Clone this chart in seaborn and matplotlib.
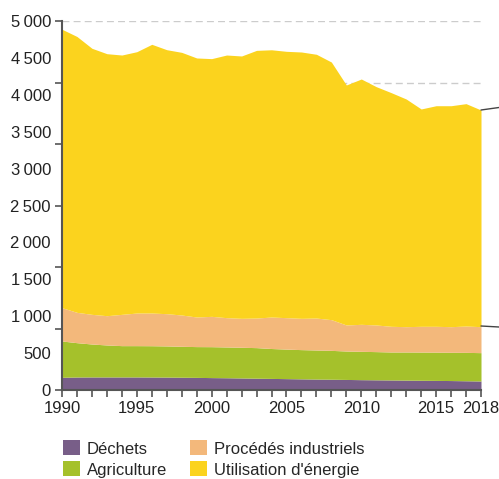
import numpy as np
import pandas as pd
import matplotlib
matplotlib.use("Agg")
import matplotlib.pyplot as plt
from matplotlib.patches import Patch
from matplotlib.lines import Line2D
import seaborn as sns

# --------------------------------------------------------------------------------
# Data
years = list(range(1990, 2019))

dechets = [172, 176, 177, 177, 177, 177, 176, 175, 173, 171, 168, 166, 163, 160, 157,
           154, 151, 148, 146, 143, 140, 138, 136, 134, 132, 130, 128, 125, 122]
agriculture = [492, 465, 446, 433, 424, 424, 424, 422, 419, 417, 419, 417, 416, 414, 405,
               400, 396, 394, 391, 385, 384, 382, 379, 381, 382, 383, 383, 385, 384]
procedes = [451, 411, 402, 397, 424, 442, 443, 437, 424, 401, 411, 397, 392, 401, 427,
            426, 424, 433, 416, 353, 366, 361, 348, 343, 349, 350, 347, 357, 352]
energie = [3773, 3738, 3605, 3550, 3514, 3541, 3641, 3577, 3559, 3510, 3492, 3559, 3555, 3627, 3621,
           3609, 3609, 3574, 3491, 3252, 3324, 3229, 3166, 3085, 2945, 2989, 2994, 3013, 2936]

series_names = ["Déchets", "Agriculture", "Procédés industriels", "Utilisation d'énergie"]
colors = ["#785e88", "#a5c12b", "#f3b87b", "#fbd31e"]

y_labels = [0, 500, 1000, 1500, 2000, 2500, 3000, 3500, 4000, 4500, 5000]
x_labels = [1990, 1995, 2000, 2005, 2010, 2015, 2018]

df = pd.DataFrame({"year": years, "Déchets": dechets, "Agriculture": agriculture,
                   "Procédés industriels": procedes, "Utilisation d'énergie": energie})

# --------------------------------------------------------------------------------
sns.set_theme(style="ticks")
plt.rcParams['font.family'] = ['Liberation Sans', 'DejaVu Sans']

fig = plt.figure(figsize=(4.99, 4.79), dpi=100)
ax = fig.add_axes([62 / 499, 1 - 390 / 479, 419 / 499, 369 / 479])

ax.stackplot(df["year"], [df[n] for n in series_names], colors=colors, linewidth=0, zorder=2)

ax.set_xlim(1990, 2018)
ax.set_ylim(0, 5000)

# y: labels every 500, tick marks every 5000/6
ax.yaxis.remove_overlapping_locs = False
ax.set_yticks(y_labels)
ax.set_yticklabels([f"{v:,}".replace(",", "\u2009") for v in y_labels], fontsize=12, color="#222222")
ax.set_yticks(np.linspace(0, 5000, 7), minor=True)
ax.tick_params(axis="y", which="major", length=0, pad=8)
ax.tick_params(axis="y", which="minor", length=5, width=1.2, color="#555555")
ax.yaxis.grid(True, which="minor", linestyle=(0, (5, 3)), color="#cccccc", linewidth=1)
ax.set_axisbelow(True)

# x: ticks every year
ax.set_xticks(x_labels)
ax.set_xticklabels([str(v) for v in x_labels], fontsize=12, color="#222222")
ax.set_xticks(years, minor=True)
ax.tick_params(axis="x", which="both", length=5, width=1.2, color="#555555", pad=3)

for side in ["top", "right"]:
    ax.spines[side].set_visible(False)
for side in ["left", "bottom"]:
    ax.spines[side].set_color("#555555")
    ax.spines[side].set_linewidth(1.5)

# leader lines going out to the right
fig.add_artist(Line2D([481 / 499, 1.0], [1 - 110 / 479, 1 - 107.5 / 479], color="#444444", lw=1))
fig.add_artist(Line2D([481 / 499, 1.0], [1 - 326 / 479, 1 - 327 / 479], color="#444444", lw=1))

handles = [Patch(facecolor=c, edgecolor="none") for c in colors]
fig.legend(handles, series_names, ncol=2, loc="upper left",
           bbox_to_anchor=(50 / 499, 1 - 427 / 479), frameon=False, fontsize=12,
           handlelength=1.0, handleheight=1.0, handletextpad=0.4,
           columnspacing=1.4, labelspacing=0.3, borderpad=0.3)

fig.savefig("out.png", dpi=100)
